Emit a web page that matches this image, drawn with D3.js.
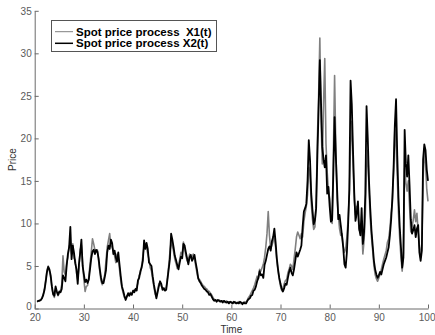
<!DOCTYPE html>
<html>
<head>
<meta charset="utf-8">
<script src="https://cdn.jsdelivr.net/npm/d3@7"></script>
<style>
  html, body { margin: 0; padding: 0; background: #fff; }
  svg { display: block; }
</style>
</head>
<body>
<svg id="chart" width="435" height="335"></svg>
<script>
// Simulated spot price paths, sampled every 0.25 time units from t = 20.5 to t = 100
const timeStart = 20.5;
const timeStep = 0.25;

const seriesNames = ["Spot price process  X1(t)", "Spot price process X2(t)"];

const priceX1 = [
  0.8, 0.9, 1.0, 1.0, 1.3, 1.7,
  2.4, 3.4, 4.5, 5.0, 4.4, 3.6, 2.4, 1.6,
  1.3, 2.3, 1.9, 1.5, 1.8, 2.1, 2.8, 6.2,
  4.3, 3.9, 5.4, 6.0, 7.3, 7.6, 6.4, 7.6,
  5.9, 5.7, 4.2, 3.4, 4.8, 6.9, 7.4, 5.4,
  3.4, 2.0, 2.6, 2.7, 3.7, 5.2, 6.6, 8.2,
  7.6, 6.9, 6.6, 6.9, 5.6, 4.3, 3.2, 2.8,
  3.3, 4.0, 5.6, 7.2, 8.0, 8.8, 7.4, 7.2,
  6.8, 6.2, 5.4, 6.4, 5.9, 4.6, 3.3, 2.4,
  1.8, 1.3, 1.2, 1.5, 1.6, 1.7, 1.9, 1.8,
  1.9, 2.2, 2.1, 2.5, 3.0, 3.9, 4.1, 5.0,
  6.2, 7.3, 7.5, 7.2, 6.4, 5.8, 4.8, 4.4,
  3.4, 2.5, 1.7, 1.4, 2.2, 2.9, 3.0, 2.6,
  2.4, 2.2, 2.3, 2.5, 3.6, 5.0, 6.6, 7.8,
  7.4, 6.7, 5.8, 5.3, 4.7, 5.0, 5.8, 6.6,
  6.4, 7.8, 7.0, 6.2, 5.6, 5.6, 6.4, 6.0,
  5.9, 6.4, 5.9, 5.0, 4.2, 3.5, 3.4, 3.2,
  2.9, 2.7, 2.6, 2.4, 2.3, 2.1, 2.0, 1.8,
  1.6, 1.3, 1.1, 1.0, 1.0, 0.9, 1.0, 0.9,
  0.8, 0.9, 0.8, 0.7, 0.9, 0.7, 0.8, 0.7,
  0.8, 0.7, 0.6, 0.8, 0.7, 0.6, 0.8, 0.6,
  0.6, 0.7, 0.6, 0.8, 0.7, 1.0, 1.3, 1.5,
  1.8, 2.1, 2.4, 2.8, 3.3, 3.8, 3.5, 4.6,
  4.4, 4.8, 5.2, 6.0, 7.2, 8.8, 11.4, 8.6,
  7.0, 7.4, 7.9, 8.4, 7.2, 5.6, 4.4, 3.4,
  2.6, 2.1, 2.4, 2.9, 3.3, 3.4, 4.2, 4.6,
  5.2, 5.0, 4.6, 5.8, 7.0, 8.4, 9.0, 8.6,
  8.2, 8.8, 8.4, 10.2, 11.2, 12.0, 13.4, 16.6,
  15.8, 12.4, 10.5, 9.3, 9.6, 12.6, 20.0, 25.0,
  31.8, 22.0, 17.0, 24.0, 29.4, 19.4, 16.0, 13.8,
  13.0, 11.2, 10.0, 18.0, 27.4, 19.0, 13.0, 11.0,
  9.4, 8.6, 8.8, 7.4, 6.6, 7.0, 8.4, 10.5,
  13.5, 19.5, 22.0, 17.0, 12.8, 11.0, 12.0, 11.0,
  9.2, 9.8, 10.0, 6.4, 8.0, 11.0, 16.5, 18.6,
  14.0, 10.6, 8.4, 6.8, 5.0, 4.0, 3.5, 3.2,
  3.6, 4.0, 4.6, 5.2, 5.8, 6.3, 6.8, 7.8,
  8.2, 9.4, 11.2, 12.4, 16.0, 21.0, 19.0, 15.5,
  11.2, 8.2, 6.0, 4.4, 6.5, 16.5, 14.8, 13.8,
  15.0, 12.0, 9.0, 9.6, 10.4, 11.6, 10.2, 11.2,
  9.0, 7.4, 6.0, 7.6, 15.0, 18.8, 17.0, 14.0,
  12.6
];

const priceX2 = [
  0.8, 0.9, 0.9, 1.0, 1.2, 1.6,
  2.2, 3.2, 4.3, 4.9, 4.6, 3.9, 2.6, 1.7,
  1.5, 2.6, 2.0, 1.6, 2.0, 1.9, 2.3, 3.9,
  3.6, 3.2, 5.0, 6.4, 7.2, 9.6, 5.8, 7.4,
  6.5, 5.3, 4.6, 2.9, 5.2, 6.5, 8.1, 5.0,
  4.0, 3.1, 3.4, 3.0, 3.4, 4.6, 5.9, 6.7,
  6.9, 6.4, 6.9, 6.7, 5.9, 4.6, 3.6, 3.0,
  3.0, 3.7, 4.5, 6.6, 7.4, 7.0, 8.1, 7.7,
  6.4, 6.8, 6.0, 5.5, 6.6, 5.2, 3.8, 2.6,
  2.1, 1.5, 1.0, 1.4, 1.8, 1.5, 1.8, 1.6,
  2.1, 1.9, 2.3, 2.1, 3.3, 3.6, 4.4, 4.8,
  5.6, 8.0, 7.0, 7.7, 7.0, 5.4, 5.2, 5.0,
  3.8, 2.8, 2.0, 1.2, 1.9, 2.6, 3.2, 2.9,
  2.2, 2.4, 2.1, 2.2, 3.4, 4.6, 5.8, 8.8,
  8.1, 7.2, 6.2, 5.7, 5.1, 4.6, 5.4, 6.1,
  5.9, 7.6, 7.4, 6.6, 5.9, 5.2, 6.0, 6.3,
  5.6, 5.9, 6.3, 5.4, 4.6, 3.6, 3.2, 3.0,
  2.7, 2.5, 2.3, 2.2, 2.0, 1.9, 1.6, 1.7,
  1.4, 1.1, 0.9, 1.0, 0.8, 1.0, 0.9, 0.8,
  0.9, 0.7, 0.9, 0.8, 0.7, 0.8, 0.6, 0.8,
  0.7, 0.6, 0.8, 0.7, 0.6, 0.7, 0.6, 0.8,
  0.7, 0.5, 0.7, 0.6, 0.6, 0.9, 1.1, 1.2,
  1.5, 1.6, 2.1, 2.2, 2.6, 3.2, 3.6, 4.4,
  3.9, 4.0, 3.6, 5.1, 5.6, 6.3, 7.0, 7.3,
  6.8, 7.9, 8.4, 9.4, 7.8, 5.9, 4.6, 3.6,
  2.9, 2.3, 2.0, 2.4, 2.9, 2.8, 3.6, 4.3,
  4.8, 4.2, 3.9, 4.6, 5.6, 6.6, 6.1, 6.5,
  6.9, 7.4, 9.6, 11.4, 11.8, 12.3, 15.0, 19.8,
  17.5, 13.5, 11.6, 9.9, 10.4, 11.8, 18.0, 23.5,
  29.2, 24.0, 19.0, 17.5, 16.6, 18.0, 13.5, 14.3,
  12.0, 10.2, 10.4, 16.0, 22.5, 18.0, 14.2, 10.5,
  11.0, 9.8, 8.6, 7.2, 5.2, 4.8, 6.6, 9.8,
  14.0, 26.8, 24.0, 18.5, 13.6, 10.3, 11.2, 12.6,
  9.4, 8.6, 11.8, 7.6, 9.0, 13.5, 23.8, 20.0,
  15.0, 11.8, 9.2, 7.4, 5.6, 4.6, 4.0, 3.6,
  3.9, 4.3, 4.0, 4.6, 5.2, 5.6, 6.0, 6.6,
  7.2, 8.6, 10.4, 13.0, 16.5, 21.5, 24.6, 18.0,
  13.0, 9.6, 7.2, 4.8, 6.0, 21.0, 17.0, 15.5,
  18.0, 14.5, 10.5, 8.8, 9.2, 9.8, 8.4, 9.4,
  9.8, 6.6, 5.6, 6.8, 17.5, 19.3, 18.6, 16.3,
  15.0
];

const xTicks = [20, 30, 40, 50, 60, 70, 80, 90, 100];
const yTicks = [0, 5, 10, 15, 20, 25, 30, 35];
const xLabel = "Time";
const yLabel = "Price";

const svg = d3.select("#chart");
const plotLeft = 34.7, plotRight = 428, plotTop = 10.8, plotBottom = 308.5;

const x = d3.scaleLinear().domain([20, 100]).range([plotLeft, plotRight]);
const y = d3.scaleLinear().domain([0, 35]).range([plotBottom, plotTop]);

const axisColor = "#6a6a6a";

// Axes with inward-pointing ticks
const gx = svg.append("g")
  .attr("transform", `translate(0,${plotBottom})`)
  .call(d3.axisBottom(x).tickValues(xTicks).tickSizeInner(-4).tickSizeOuter(0).tickPadding(5));
const gy = svg.append("g")
  .attr("transform", `translate(${plotLeft},0)`)
  .call(d3.axisLeft(y).tickValues(yTicks).tickSizeInner(-4).tickSizeOuter(0).tickPadding(3));

[gx, gy].forEach(g => {
  g.select(".domain").attr("stroke", axisColor).attr("stroke-width", 1);
  g.selectAll(".tick line").attr("stroke", axisColor);
  g.selectAll(".tick text")
    .attr("fill", "#5a5a5a")
    .style("font-family", "Liberation Sans, Arial, sans-serif")
    .style("font-size", "10px");
});

// the corner labels sit a little apart so "0" and "20" don't collide
gy.selectAll(".tick text")
  .filter(d => d === 0)
  .attr("y", -2);

// keep the last tick label inside the drawing
gx.selectAll(".tick text")
  .filter(d => d === 100)
  .attr("text-anchor", "end")
  .attr("x", 7);

svg.append("text")
  .attr("x", (plotLeft + plotRight) / 2)
  .attr("y", 333)
  .attr("text-anchor", "middle")
  .attr("fill", "#333")
  .style("font-family", "Liberation Sans, Arial, sans-serif")
  .style("font-size", "10px")
  .text(xLabel);

svg.append("text")
  .attr("transform", `translate(16,${(plotTop + plotBottom) / 2}) rotate(-90)`)
  .attr("text-anchor", "middle")
  .attr("fill", "#333")
  .style("font-family", "Liberation Sans, Arial, sans-serif")
  .style("font-size", "10px")
  .text(yLabel);

// Price paths: X1 in grey underneath, X2 in black on top
const line = d3.line()
  .x((d, i) => x(timeStart + i * timeStep))
  .y(d => y(d));

const styles = [
  { color: "#808080", width: 1.6 },
  { color: "#000000", width: 1.8 }
];
[priceX1, priceX2].forEach((series, k) => {
  svg.append("path")
    .datum(series)
    .attr("fill", "none")
    .attr("stroke", styles[k].color)
    .attr("stroke-width", styles[k].width)
    .attr("stroke-linejoin", "round")
    .attr("d", line);
});

// Legend
const legend = svg.append("g");
legend.append("rect")
  .attr("x", 51.5).attr("y", 20.5)
  .attr("width", 165).attr("height", 31)
  .attr("fill", "#fff")
  .attr("stroke", "#555")
  .attr("stroke-width", 1);

seriesNames.forEach((name, k) => {
  const ly = 31.7 + k * 11.6;
  legend.append("line")
    .attr("x1", 55).attr("x2", 73)
    .attr("y1", ly).attr("y2", ly)
    .attr("stroke", styles[k].color)
    .attr("stroke-width", k === 0 ? 1 : 1.5);
  legend.append("text")
    .attr("x", 76)
    .attr("y", ly + 4)
    .attr("fill", "#000")
    .style("font-family", "Liberation Sans, Arial, sans-serif")
    .style("font-size", "11.5px")
    .style("font-weight", "bold")
    .style("white-space", "pre")
    .text(name);
});
</script>
</body>
</html>
